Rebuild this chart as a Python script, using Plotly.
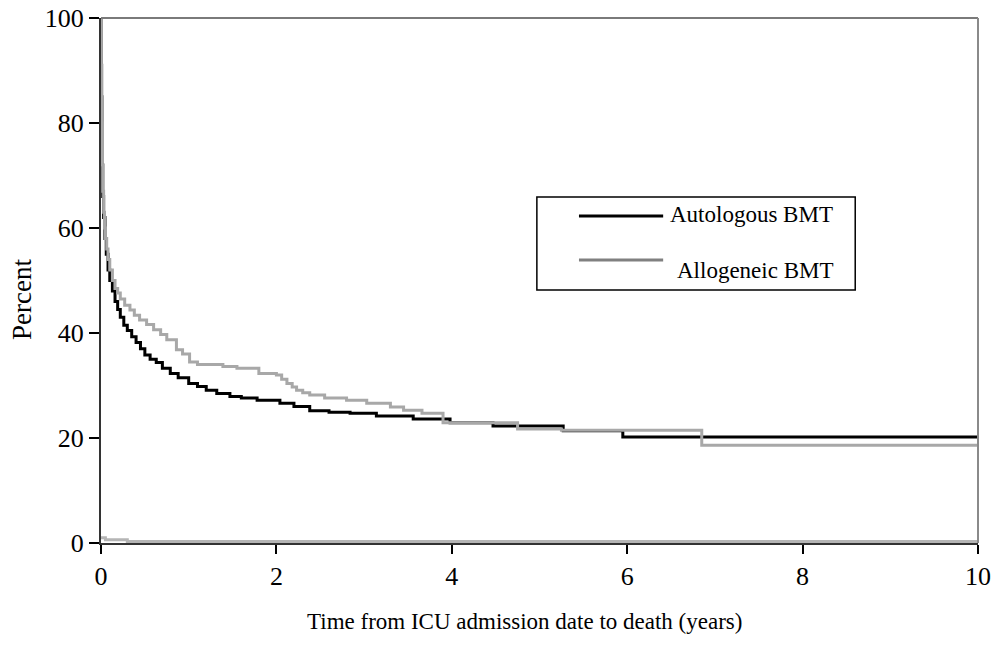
import plotly.graph_objects as go

# Autologous BMT (black) step curve: time in years, percent surviving
auto_t = [0, 0.005, 0.01, 0.02, 0.03, 0.045, 0.06, 0.08, 0.10, 0.13, 0.16, 0.19, 0.22,
          0.26, 0.30, 0.35, 0.40, 0.45, 0.50, 0.56, 0.63, 0.70, 0.79, 0.88, 1.00, 1.10,
          1.20, 1.32, 1.47, 1.60, 1.78, 2.04, 2.20, 2.38, 2.60, 2.84, 3.14, 3.56, 3.98,
          4.47, 5.27, 5.95, 10]
auto_v = [100, 85, 72, 66, 62, 58, 55, 52, 50, 48, 46, 44.5, 43,
          41.5, 40.5, 39.3, 38.2, 37, 35.8, 35, 34.4, 33.3, 32.3, 31.5, 30.4, 29.8,
          29.1, 28.5, 27.9, 27.6, 27.2, 26.6, 26.0, 25.2, 24.9, 24.7, 24.2, 23.6, 22.9,
          22.3, 21.4, 20.2, 20.2]

# Allogeneic BMT (grey) step curve
allo_t = [0, 0.005, 0.01, 0.015, 0.02, 0.03, 0.04, 0.05, 0.065, 0.08, 0.10, 0.13, 0.16,
          0.19, 0.22, 0.27, 0.33, 0.38, 0.44, 0.52, 0.60, 0.68, 0.75, 0.86, 0.93, 1.01,
          1.10, 1.39, 1.55, 1.80, 2.00, 2.06, 2.12, 2.18, 2.23, 2.30, 2.38, 2.55, 2.80,
          3.03, 3.30, 3.45, 3.66, 3.90, 4.75, 5.25, 6.85, 10]
allo_v = [100, 91, 80, 72, 67, 63, 60, 58, 56, 54, 52, 50, 48.5,
          47.6, 46.5, 45.3, 44.4, 43.4, 42.5, 41.6, 40.6, 39.7, 38.7, 36.8, 36.0, 34.5,
          34.0, 33.6, 33.3, 32.3, 32.0, 31.2, 30.4, 29.7, 29.1, 28.6, 28.2, 27.6, 27.2,
          26.6, 25.9, 25.3, 24.7, 22.9, 21.7, 21.5, 18.6, 18.6]

# Faint near-zero grey line
base_t = [0, 0.05, 0.3, 10]
base_v = [1.0, 0.6, 0.3, 0.2]

x_ticks = [0, 2, 4, 6, 8, 10]
y_ticks = [0, 20, 40, 60, 80, 100]

legend_names = ["Autologous BMT", "Allogeneic BMT"]
x_title = "Time from ICU admission date to death (years)"
y_title = "Percent"

FONT = "Liberation Serif"
BLACK = "#000000"
GREY = "#a8a8a8"

fig = go.Figure()
fig.add_trace(go.Scatter(x=base_t, y=base_v, mode="lines", line_shape="hv",
                         line=dict(color="#b5b5b5", width=3), showlegend=False,
                         hoverinfo="skip"))
fig.add_trace(go.Scatter(x=auto_t, y=auto_v, mode="lines", line_shape="hv",
                         line=dict(color=BLACK, width=3), name=legend_names[0],
                         showlegend=False))
fig.add_trace(go.Scatter(x=allo_t, y=allo_v, mode="lines", line_shape="hv",
                         line=dict(color=GREY, width=3), name=legend_names[1],
                         showlegend=False))

# Frame (top and right edges, grey)
fig.add_shape(type="line", xref="paper", yref="paper", x0=0, x1=1, y0=1, y1=1,
              line=dict(color="#7a7a7a", width=2))
fig.add_shape(type="line", xref="paper", yref="paper", x0=1, x1=1, y0=0, y1=1,
              line=dict(color="#8a8a8a", width=2))

# Custom legend box
fig.add_shape(type="rect", xref="paper", yref="paper", x0=0.497, x1=0.860,
              y0=0.482, y1=0.659, line=dict(color="#000000", width=1.5),
              fillcolor="white")
fig.add_shape(type="line", xref="paper", yref="paper", x0=0.545, x1=0.641,
              y0=0.623, y1=0.623, line=dict(color=BLACK, width=3))
fig.add_shape(type="line", xref="paper", yref="paper", x0=0.545, x1=0.641,
              y0=0.539, y1=0.539, line=dict(color="#808080", width=3))
fig.add_annotation(xref="paper", yref="paper", x=0.646, y=0.625, xanchor="left",
                   yanchor="middle", text=legend_names[0], showarrow=False,
                   font=dict(family=FONT, size=23, color="black"))
fig.add_annotation(xref="paper", yref="paper", x=0.654, y=0.520, xanchor="left",
                   yanchor="middle", text=legend_names[1], showarrow=False,
                   font=dict(family=FONT, size=23, color="black"))

# Axis titles
fig.add_annotation(xref="paper", yref="paper", x=0.483, y=-0.150, xanchor="center",
                   yanchor="middle", text=x_title, showarrow=False,
                   font=dict(family=FONT, size=23, color="black"))
fig.add_annotation(xref="paper", yref="paper", x=-0.090, y=0.463, xanchor="center",
                   yanchor="middle", text=y_title, showarrow=False, textangle=-90,
                   font=dict(family=FONT, size=27, color="black"))

fig.update_layout(
    width=1004, height=651,
    margin=dict(l=101, r=26, t=18, b=108),
    paper_bgcolor="white", plot_bgcolor="white",
    font=dict(family=FONT, color="black"),
    showlegend=False,
)
fig.update_xaxes(range=[0, 10], tickvals=x_ticks, ticks="outside", ticklen=9,
                 tickwidth=1.5, tickcolor="black", showline=True, linecolor="#333333",
                 linewidth=2, showgrid=False, zeroline=False, automargin=False,
                 ticklabeloverflow="allow",
                 tickfont=dict(family=FONT, size=26))
fig.update_yaxes(range=[0, 100], tickvals=y_ticks, ticks="outside", ticklen=10,
                 tickwidth=1.5, tickcolor="black", showline=True, linecolor="#333333",
                 linewidth=2, showgrid=False, zeroline=False, automargin=False,
                 ticklabeloverflow="allow",
                 tickfont=dict(family=FONT, size=26))

# Remove the default page margin so the figure fills the window exactly.
fig.write_html("out.html",
               config={"displayModeBar": False},
               post_script="document.body.style.margin='0';"
                           "document.body.style.overflow='hidden';")
